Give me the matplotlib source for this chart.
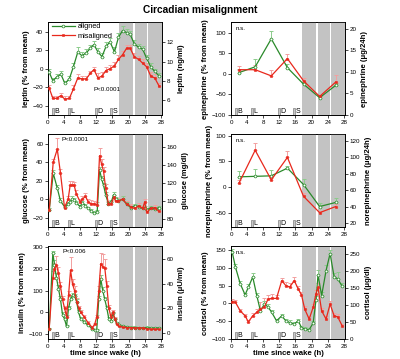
import matplotlib
matplotlib.use("Agg")
import matplotlib.pyplot as plt
from matplotlib.patches import Rectangle

plt.rcParams['font.family'] = ['Liberation Sans', 'DejaVu Sans']

# --- данные ---
x_lep = [0.3, 1.2, 2.2, 3.2, 4.2, 5.3, 6.3, 7.4, 8.4, 9.5, 10.5, 11.4, 12.4, 13.4,
         14.4, 15.4, 16.5, 17.5, 18.5, 19.5, 20.4, 21.4, 22.5, 23.5, 24.5, 25.5, 26.5, 27.6]
lep_al = [-4, -13, -9, -6, -16, -11, 2, 18, 14, 17, 22, 26, 18, 13,
          24, 29, 18, 34, 41, 39, 37, 27, 23, 21, 11, 2, -3, -8]
lep_al_err = [4, 3, 3, 3, 3, 3, 4, 5, 4, 4, 4, 4, 4, 4, 5, 4, 5, 5, 5, 4, 4, 4, 4, 4, 4, 4, 3, 3]
lep_mis = [-21, -32, -32, -29, -33, -32, -22, -10, -11, -11, -5, -1, -10, -8,
           -2, 0, 3, 10, 15, 22, 22, 13, 10, 6, 2, -8, -10, -19]
lep_mis_err = [3, 3, 3, 3, 3, 3, 4, 4, 3, 3, 3, 3, 5, 4, 4, 4, 4, 5, 4, 4, 4, 4, 4, 4, 4, 4, 4, 3]

x_epi = [2, 6, 10, 14, 18, 22, 26]
epi_al = [3, 17, 85, 15, -25, -58, -28]
epi_al_err = [8, 18, 20, 8, 6, 4, 6]
epi_mis = [10, 10, -5, 37, -17, -55, -20]
epi_mis_err = [10, 12, 15, 12, 6, 4, 18]

x_glu = [0.3, 1.3, 2.3, 3.1, 4.1, 5.0, 5.5, 6.0, 6.5, 7.0, 8.0, 8.5, 9.3, 10.0, 10.7,
         11.5, 12.2, 12.8, 13.3, 13.8, 14.3, 15.0, 15.7, 16.3, 16.8, 17.5, 18.5, 19.5,
         20.5, 21.5, 22.5, 23.5, 24.0, 24.5, 25.5, 26.5, 27.5]
glu_al = [-12, 28, 12, -2, -8, -5, -3, 0, -1, -4, -8, -4, -7, -10, -13,
          -15, -14, 32, 22, 15, 5, -5, -3, 5, 0, -2, 0, -5,
          -9, -7, -8, -10, -9, -12, -9, -11, -9]
glu_al_err = [2, 3, 3, 3, 2, 2, 2, 3, 2, 2, 2, 2, 2, 2, 2,
              2, 2, 3, 3, 3, 3, 2, 2, 3, 2, 2, 3, 2,
              2, 2, 2, 2, 2, 2, 2, 2, 2]
glu_mis = [-12, 40, 54, 28, -9, 0, 15, 15, 15, 6, -3, 0, 3, -3, -5,
           -5, -6, 47, 38, 30, 12, -5, -5, 2, -2, -2, 0, -5,
           -8, -10, -7, -10, -3, -14, -10, -9, -13]
glu_mis_err = [2, 3, 12, 5, 3, 3, 5, 5, 4, 4, 3, 3, 4, 3, 4,
               3, 3, 8, 5, 5, 4, 3, 3, 3, 3, 3, 3, 3,
               3, 3, 3, 3, 3, 3, 3, 3, 3]

x_nor = [2, 6, 10, 14, 18, 22, 26]
nor_al = [20, 21, 22, 37, 5, -38, -30]
nor_al_err = [12, 15, 12, 5, 10, 6, 8]
nor_mis = [8, 72, 14, 58, -18, -50, -38]
nor_mis_err = [5, 14, 4, 12, 6, 3, 4]

x_ins = [0.3, 1.2, 1.6, 2.1, 2.6, 3.1, 3.6, 4.1, 4.6, 5.1, 5.6, 6.1, 6.6, 7.1, 7.6, 8.1,
         9.0, 10.0, 11.0, 11.6, 12.1, 12.6, 13.1, 13.6, 14.1, 14.6, 15.1, 15.6, 16.1,
         16.6, 17.1, 17.6, 18.5, 19.5, 20.5, 21.5, 22.5, 23.5, 24.5, 25.5, 26.5, 27.5]
ins_al = [-75, 275, 220, 160, 110, 60, -10, -30, -65, 20, 60, 80, 75, 50, 0, -30,
          -45, -60, -75, -80, -80, 60, 155, 100, 60, 20, -30, -40, -5,
          -30, -50, -60, -65, -68, -70, -70, -72, -72, -70, -72, -72, -72]
ins_al_err = [5, 10, 20, 20, 15, 15, 10, 10, 8, 10, 10, 10, 10, 10, 10, 8,
              8, 6, 5, 5, 5, 15, 20, 15, 12, 10, 8, 6, 8,
              6, 5, 5, 5, 5, 5, 5, 5, 5, 5, 5, 5, 5]
ins_mis = [-75, 160, 200, 220, 180, 120, 60, 20, -20, 80, 195, 130, 100, 50, 20, 0,
           -20, -50, -70, -55, -20, 100, 225, 210, 205, 120, 20, -20, 0,
           -30, -55, -65, -68, -70, -70, -72, -72, -72, -75, -78, -78, -78]
ins_mis_err = [5, 30, 30, 40, 30, 20, 15, 10, 10, 20, 60, 25, 20, 15, 10, 10,
               10, 8, 5, 8, 10, 20, 50, 60, 40, 25, 15, 10, 10,
               8, 6, 5, 5, 5, 5, 5, 5, 5, 5, 5, 5, 5]

x_cor = [0.3, 1.1, 2.3, 3.5, 4.3, 5.4, 6.4, 7.3, 8.3, 9.2, 10.1, 11.3, 12.6, 13.6, 14.6,
         15.7, 16.7, 17.5, 18.3, 19.4, 20.4, 21.1, 21.6, 22.5, 23.6, 24.6, 25.6, 26.5, 27.6]
cor_al = [144, 102, 55, 24, 45, 74, 22, -21, -2, -10, -25, -49, -35, -49, -54,
          -58, -49, -68, -72, -74, -55, 10, 80, 22, 92, 140, 74, 69, 48]
cor_al_err = [10, 8, 8, 6, 8, 10, 8, 8, 8, 8, 6, 6, 6, 6, 6,
              6, 6, 5, 5, 5, 6, 10, 15, 10, 15, 10, 10, 20, 10]
cor_mis = [5, 3, -21, -35, -52, -35, -25, -16, -10, 12, 14, 14, 64, 50, 46,
           64, 40, 24, -16, -44, -11, 27, 45, -21, -44, -2, -35, -38, -63]
cor_mis_err = [8, 6, 6, 6, 6, 8, 10, 20, 25, 12, 12, 10, 8, 10, 10,
               10, 10, 8, 8, 8, 8, 10, 12, 8, 8, 10, 8, 8, 6]

sleep_bands = [(17.6, 21.2), (21.6, 24.5), (24.9, 28.3)]
meals = [("B", 0.9, 1.5), ("L", 4.9, 5.5), ("D", 11.7, 12.2), ("S", 15.5, 16.0)]

GREEN = "#2a8a2a"
GREEN_ERR = "#8ccc8c"
RED = "#e8281c"
RED_ERR = "#f2a0a0"

panels = [
    # x, al, al_err, mis, mis_err, left label, right label, ylim, yticks, ylim2, yticks2
    (x_lep, lep_al, lep_al_err, lep_mis, lep_mis_err, "leptin (% from mean)", "leptin (ng/ml)",
     (-50, 50), [-40, -20, 0, 20, 40], (4.45, 14.07), [6, 8, 10, 12]),
    (x_epi, epi_al, epi_al_err, epi_mis, epi_mis_err, "epinephrine (% from mean)", "epinephrine (\u03bcg/24h)",
     (-100, 125), [-100, -50, 0, 50, 100], (0, 21.5), [0, 5, 10, 15, 20]),
    (x_glu, glu_al, glu_al_err, glu_mis, glu_mis_err, "glucose (% from mean)", "glucose (mg/dl)",
     (-30, 70), [-20, 0, 20, 40, 60], (71.5, 173.7), [80, 100, 120, 140, 160]),
    (x_nor, nor_al, nor_al_err, nor_mis, nor_mis_err, "norepinephrine (% from mean)", "norepinephrine (\u03bcg/24h)",
     (-78, 103), [-50, 0, 50, 100], (15, 128), [20, 40, 60, 80, 100, 120]),
    (x_ins, ins_al, ins_al_err, ins_mis, ins_mis_err, "insulin (% from mean)", "insulin (\u03bcU/ml)",
     (-123, 305), [-100, 0, 100, 200, 300], (-5, 70.5), [0, 20, 40, 60]),
    (x_cor, cor_al, cor_al_err, cor_mis, cor_mis_err, "cortisol (% from mean)", "cortisol (\u03bcg/dl)",
     (-100, 160), [-100, -50, 0, 50, 100, 150], (0, 274), [0, 50, 100, 150, 200, 250]),
]
notes = ["P<0.0001", "n.s.", "P<0.0001", "n.s.", "P<0.006", "n.s."]
note_pos = [(0.40, 0.27), (0.04, 0.93), (0.12, 0.95), (0.04, 0.93), (0.13, 0.95), (0.04, 0.93)]

fig = plt.figure(figsize=(4, 3.59), dpi=100)
fig.text(0.5, 0.972, "Circadian misalignment", ha="center", va="center",
         fontsize=7.3, fontweight="bold")

lefts = [0.12, 0.5775]
bottoms = [0.6797, 0.3677, 0.0557]
w, h = 0.285, 0.258
LAB = 5.6

for i, p in enumerate(panels):
    (xs, al, al_err, mis, mis_err, lab, lab2, ylim, yt, ylim2, yt2) = p
    ax = fig.add_axes([lefts[i % 2], bottoms[i // 2], w, h])
    ax2 = ax.twinx()
    ax.set_zorder(ax2.get_zorder() + 1)
    ax.patch.set_visible(False)

    for a, b in sleep_bands:
        ax.axvspan(a, b, color="#c3c3c3", lw=0, zorder=0)
    for name, a, b in meals:
        ax.add_patch(Rectangle((a, 0), b - a, 0.075, transform=ax.get_xaxis_transform(),
                               facecolor="#c8c8c8", edgecolor="#808080", lw=0.5, zorder=1))
        ax.text(b + 0.15, 0.035, name, transform=ax.get_xaxis_transform(),
                fontsize=5, va="center", ha="left")

    ax.errorbar(xs, mis, yerr=[[0] * len(mis_err), mis_err], fmt="none", ecolor=RED_ERR,
                elinewidth=0.7, capsize=1.3, capthick=0.7, zorder=2)
    ax.errorbar(xs, al, yerr=[[0] * len(al_err), al_err], fmt="none", ecolor=GREEN_ERR,
                elinewidth=0.7, capsize=1.3, capthick=0.7, zorder=2)
    ax.plot(xs, al, color=GREEN, lw=0.9, marker="o", ms=2.0, mfc="white", mec=GREEN,
            mew=0.5, label="aligned", zorder=3)
    ax.plot(xs, mis, color=RED, lw=0.9, marker="s", ms=1.7, mfc=RED, mec=RED,
            mew=0.4, label="misaligned", zorder=3)

    ax.set_xlim(0, 28.3)
    ax.set_xticks(range(0, 29, 4))
    ax.set_ylim(*ylim)
    ax.set_yticks(yt)
    ax2.set_ylim(*ylim2)
    ax2.set_yticks(yt2)
    for a_ in (ax, ax2):
        a_.tick_params(labelsize=4.5, length=2, width=0.5, pad=1.5, direction="out")
        for s in a_.spines.values():
            s.set_linewidth(0.6)
    ax.set_ylabel(lab, fontsize=LAB, fontweight="bold", labelpad=2)
    ax2.set_ylabel(lab2, fontsize=LAB, fontweight="bold", labelpad=3)
    if i // 2 == 2:
        ax.set_xlabel("time since wake (h)", fontsize=LAB, fontweight="bold", labelpad=1)
    ax.text(note_pos[i][0], note_pos[i][1], notes[i], transform=ax.transAxes,
            fontsize=4.5, va="center", ha="left")
    if i == 0:
        ax.legend(loc="upper left", bbox_to_anchor=(0.0, 1.04), frameon=False,
                  fontsize=5.3, handlelength=3.0, handletextpad=0.4,
                  labelspacing=0.3, borderaxespad=0.2)

fig.savefig("out.png", dpi=100)
